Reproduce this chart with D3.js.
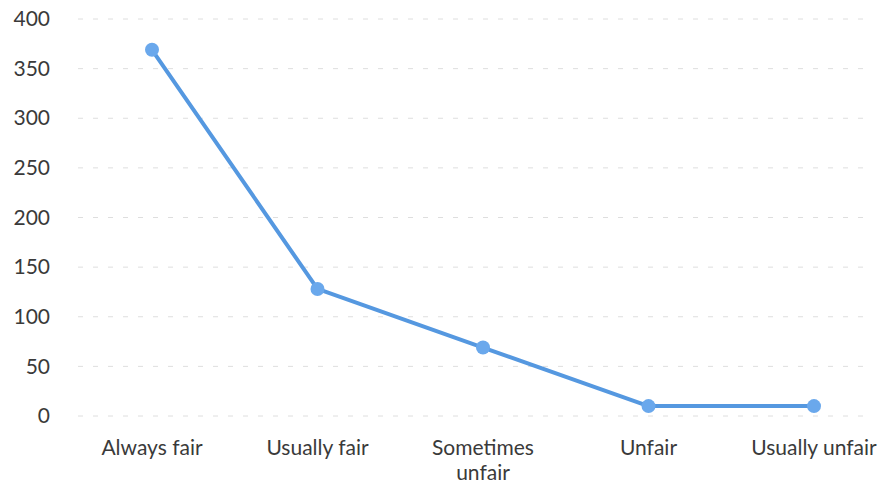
<!DOCTYPE html>
<html>
<head>
<meta charset="utf-8">
<script src="https://cdn.jsdelivr.net/npm/d3@7/dist/d3.min.js"></script>
<style>
  body { margin: 0; background: #fff; }
  text { font-family: Lato, "Open Sans", sans-serif; fill: #3a3a3a; }
</style>
</head>
<body>
<svg id="chart" width="885" height="486"></svg>
<script>
// data
var categories = ["Always fair", "Usually fair", "Sometimes unfair", "Unfair", "Usually unfair"];
var labelLines = [["Always fair"], ["Usually fair"], ["Sometimes", "unfair"], ["Unfair"], ["Usually unfair"]];
var values = [369, 128, 69, 10, 10];
var yTicks = [0, 50, 100, 150, 200, 250, 300, 350, 400];

var svg = d3.select("#chart");

var x = d3.scalePoint().domain(categories).range([152, 814]);
var y = d3.scaleLinear().domain([0, 400]).range([416, 19]);

// grid
svg.append("g").selectAll("line").data(yTicks).enter().append("line")
    .attr("x1", 78).attr("x2", 870)
    .attr("y1", function(d) { return y(d); })
    .attr("y2", function(d) { return y(d); })
    .attr("stroke", "#dedede")
    .attr("stroke-width", 1)
    .attr("stroke-dasharray", "5,10");

// y axis labels
var yAxis = svg.append("g").attr("transform", "translate(50,0)")
    .call(d3.axisLeft(y).tickValues(yTicks).tickSize(0).tickPadding(0));
yAxis.select(".domain").remove();
yAxis.selectAll("text").style("font-size", "21px").attr("fill", "#3a3a3a")
    .style("font-family", "Lato, 'Open Sans', sans-serif");

// x labels
var xl = svg.append("g").selectAll("text").data(categories).enter().append("text")
    .attr("x", function(d) { return x(d); })
    .attr("y", 455)
    .attr("text-anchor", "middle")
    .style("font-size", "21px");
xl.each(function(d, i) {
    var t = d3.select(this);
    labelLines[i].forEach(function(s, j) {
        t.append("tspan").attr("x", x(d)).attr("dy", j === 0 ? 0 : 25).text(s);
    });
});

// line
var line = d3.line()
    .x(function(d, i) { return x(categories[i]); })
    .y(function(d) { return y(d); });

svg.append("path").datum(values)
    .attr("d", line)
    .attr("fill", "none")
    .attr("stroke", "#5598e0")
    .attr("stroke-width", 4)
    .attr("stroke-linejoin", "round");

svg.append("g").selectAll("circle").data(values).enter().append("circle")
    .attr("cx", function(d, i) { return x(categories[i]); })
    .attr("cy", function(d) { return y(d); })
    .attr("r", 7)
    .attr("fill", "#6aa8ec");
</script>
</body>
</html>
